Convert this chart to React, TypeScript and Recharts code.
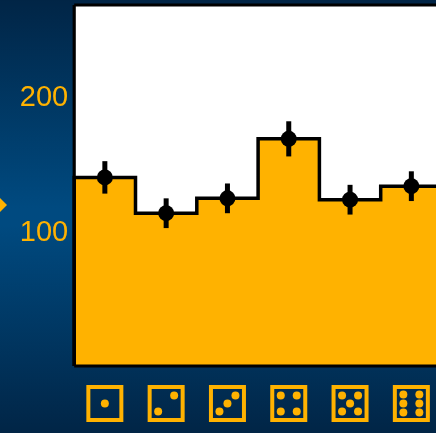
import React from "react";
import { ComposedChart, Area, Scatter, ErrorBar, XAxis, YAxis, CartesianGrid, ReferenceLine } from "recharts";

const faces = [1, 2, 3, 4, 5, 6];
const counts = [139.5, 113, 124, 168, 123, 133];
const errors = [12, 11, 11, 13, 11, 11];
const yTicks = [100, 200];

const ORANGE = "#ffb200";

const stepData = [
  { x: 0, y: 0 },
  ...counts.map((y, i) => ({ x: i, y })),
  { x: counts.length, y: counts[counts.length - 1] },
];
const pointData = counts.map((y, i) => ({ x: i + 0.5, y, err: errors[i] }));
const xTicks = faces.map((_, i) => i + 0.5);

const pipLayouts: Record<number, [number, number][]> = {
  1: [[0, 0]],
  2: [[-8, 8], [8, -8]],
  3: [[-8, 8], [0, 0], [8, -8]],
  4: [[-8, -8], [8, -8], [-8, 8], [8, 8]],
  5: [[-8, -8], [8, -8], [0, 0], [-8, 8], [8, 8]],
  6: [[-8, -9], [8, -9], [-8, 0], [8, 0], [-8, 9], [8, 9]],
};

function DiceTick(props: any) {
  const { x, payload } = props;
  const face = faces[Math.round(payload.value - 0.5)];
  const cy = 403.5;
  return (
    <g>
      <rect x={x - 16.5} y={cy - 16.5} width={33} height={33} fill="none" stroke={ORANGE} strokeWidth={4} />
      {(pipLayouts[face] || []).map(([dx, dy], i) => (
        <circle key={i} cx={x + dx} cy={cy + dy} r={4} fill={ORANGE} />
      ))}
    </g>
  );
}

function Dot(props: any) {
  return <circle cx={props.cx} cy={props.cy} r={8} fill="#000" />;
}

export default function App() {
  return (
    <div
      style={{
        position: "fixed",
        left: 0,
        top: 0,
        width: 436,
        height: 433,
        overflow: "hidden",
        background: "linear-gradient(180deg, #012546 0%, #004a80 48%, #004a80 52%, #012546 100%)",
        filter: "blur(0.5px)",
      }}
    >
      <ComposedChart
        width={480}
        height={433}
        data={stepData}
        margin={{ top: 5, right: 38, bottom: 0, left: 0 }}
        style={{ fontFamily: "'Liberation Sans', Arial, sans-serif" }}
      >
        <CartesianGrid fill="#ffffff" horizontal={false} vertical={false} />
        <XAxis
          type="number"
          dataKey="x"
          domain={[0, 6]}
          ticks={xTicks}
          interval={0}
          axisLine={{ stroke: "#000", strokeWidth: 3 }}
          tickLine={false}
          tick={<DiceTick />}
          height={67}
        />
        <YAxis
          type="number"
          width={74.2}
          domain={[0, 267]}
          ticks={yTicks}
          axisLine={{ stroke: "#000", strokeWidth: 3.2 }}
          tickLine={false}
          tickMargin={0}
          tick={{ fill: ORANGE, fontSize: 29 }}
        />
        <Area
          dataKey="y"
          type="stepAfter"
          fill={ORANGE}
          fillOpacity={1}
          stroke="#000"
          strokeWidth={3.5}
          isAnimationActive={false}
          dot={false}
          activeDot={false}
        />
        <ReferenceLine y={267} stroke="#000" strokeWidth={3} />
        <Scatter data={pointData} dataKey="y" fill="#000" shape={<Dot />} isAnimationActive={false}>
          <ErrorBar dataKey="err" direction="y" width={0} stroke="#000" strokeWidth={5} isAnimationActive={false} />
        </Scatter>
      </ComposedChart>
      <svg width={10} height={20} style={{ position: "absolute", left: 0, top: 195 }}>
        <polygon points="0,3 7,10 0,17" fill={ORANGE} />
      </svg>
    </div>
  );
}
